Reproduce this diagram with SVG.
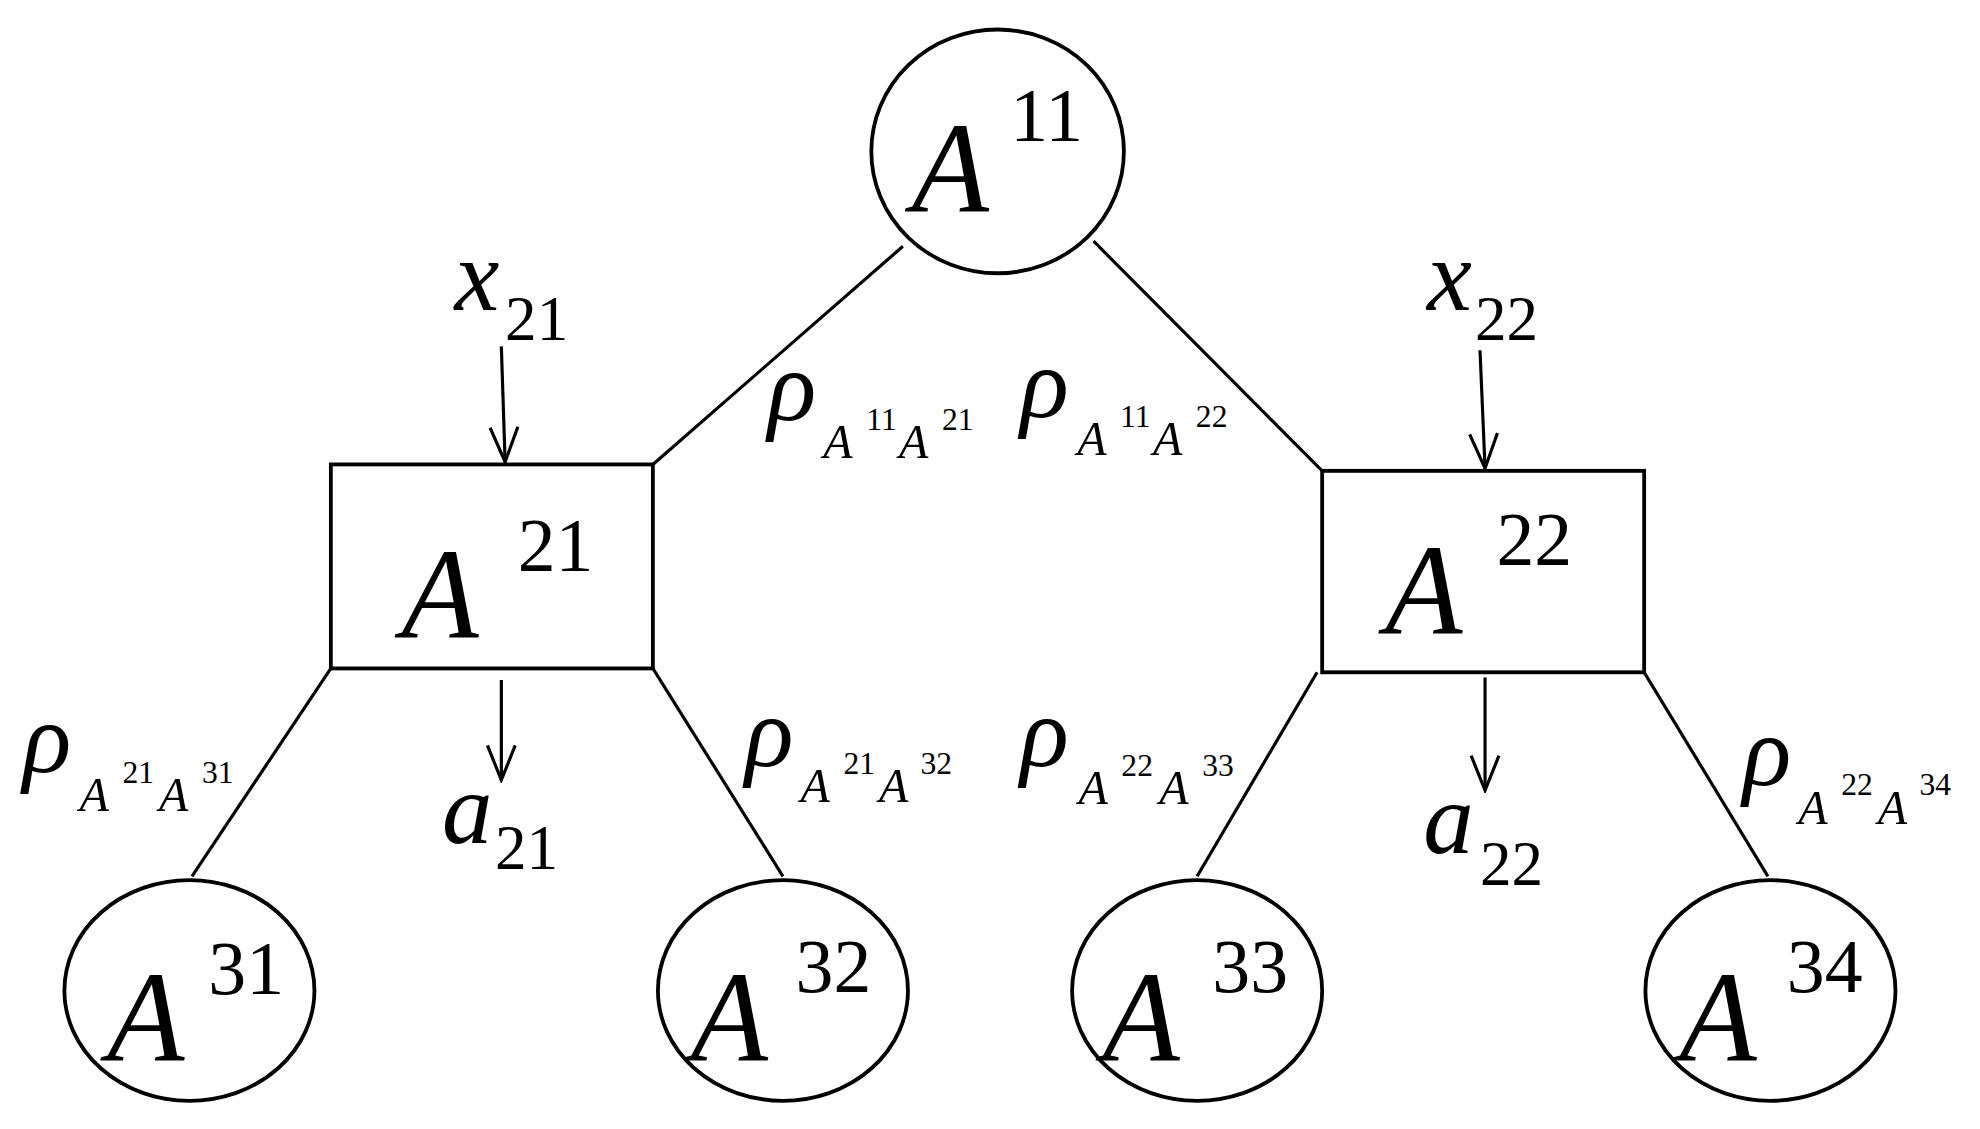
<svg xmlns="http://www.w3.org/2000/svg" width="1980" height="1129" viewBox="0 0 1980 1129">
<defs>
<marker id="ah" markerWidth="30" markerHeight="30" refX="28" refY="15" orient="auto" markerUnits="userSpaceOnUse" viewBox="0 0 30 30"><path d="M1 4 L28 15 L1 26" fill="none" stroke="#000" stroke-width="2.5"/></marker>
</defs>
<style>
text{font-family:"Liberation Serif","DejaVu Serif",serif}
.s{fill:#fff;stroke:#000;stroke-width:3}
.l{stroke:#000;stroke-width:2.5;fill:none}
.big{font-size:100px;font-style:italic}
.sup{font-size:60px}
.v{font-size:80px;font-style:italic}
.sub{font-size:50px}
.r{font-size:80px;font-style:italic}
.ra{font-size:38px;font-style:italic}
.rs{font-size:25px}
</style>
<rect width="1980" height="1129" fill="#fff"/>
<g transform="scale(1.2628,1.283)" font-family="'Liberation Serif', 'DejaVu Serif', serif" fill="#000">
<g id="connectors">
<line class="l" x1="715" y1="192" x2="517" y2="362"/>
<line class="l" x1="866" y1="188" x2="1047" y2="367"/>
<line class="l" x1="262" y1="521" x2="152" y2="683"/>
<line class="l" x1="517" y1="521" x2="620" y2="683"/>
<line class="l" x1="1043" y1="524" x2="948" y2="683"/>
<line class="l" x1="1302" y1="524" x2="1400" y2="683"/>
<line class="l" x1="397" y1="270" x2="400" y2="360" marker-end="url(#ah)"/>
<line class="l" x1="1172" y1="273" x2="1176" y2="365" marker-end="url(#ah)"/>
<line class="l" x1="397" y1="530" x2="397" y2="608" marker-end="url(#ah)"/>
<line class="l" x1="1176" y1="528" x2="1176" y2="616" marker-end="url(#ah)"/>
</g>
<g id="A11"><ellipse class="s" cx="790" cy="118" rx="100" ry="95"/><text class="big" x="722" y="165">A</text><text class="sup" x="800" y="110">11</text></g>
<g id="A21"><rect class="s" x="262" y="362" width="255" height="159"/><text class="big" x="318" y="497">A</text><text class="sup" x="410" y="445">21</text></g>
<g id="A22"><rect class="s" x="1047" y="367" width="255" height="157"/><text class="big" x="1097" y="494">A</text><text class="sup" x="1185" y="440">22</text></g>
<g id="A31"><ellipse class="s" cx="150" cy="772" rx="99" ry="86"/><text class="big" x="85" y="827">A</text><text class="sup" x="165" y="775">31</text></g>
<g id="A32"><ellipse class="s" cx="620" cy="772" rx="99" ry="86"/><text class="big" x="547" y="827">A</text><text class="sup" x="630" y="773">32</text></g>
<g id="A33"><ellipse class="s" cx="948" cy="772" rx="99" ry="86"/><text class="big" x="873" y="827">A</text><text class="sup" x="960" y="773">33</text></g>
<g id="A34"><ellipse class="s" cx="1402" cy="772" rx="99" ry="86"/><text class="big" x="1330" y="827">A</text><text class="sup" x="1415" y="773">34</text></g>
<g id="labels">
<text class="v" x="360" y="242">x</text><text class="sub" x="400" y="265">21</text>
<text class="v" x="1130" y="242">x</text><text class="sub" x="1168" y="265">22</text>
<text class="v" x="350" y="657">a</text><text class="sub" x="392" y="677">21</text>
<text class="v" x="1127" y="665">a</text><text class="sub" x="1172" y="690">22</text>
<text class="r" x="608" y="327">ρ</text><text class="ra" x="652" y="357">A</text><text class="rs" x="686" y="335">11</text><text class="ra" x="712" y="357">A</text><text class="rs" x="746" y="335">21</text>
<text class="r" x="808" y="325">ρ</text><text class="ra" x="853" y="355">A</text><text class="rs" x="887" y="333">11</text><text class="ra" x="913" y="355">A</text><text class="rs" x="947" y="333">22</text>
<text class="r" x="18" y="602">ρ</text><text class="ra" x="63" y="632">A</text><text class="rs" x="97" y="610">21</text><text class="ra" x="126" y="632">A</text><text class="rs" x="160" y="610">31</text>
<text class="r" x="590" y="597">ρ</text><text class="ra" x="634" y="625">A</text><text class="rs" x="668" y="603">21</text><text class="ra" x="696" y="625">A</text><text class="rs" x="729" y="603">32</text>
<text class="r" x="808" y="597">ρ</text><text class="ra" x="854" y="627">A</text><text class="rs" x="888" y="605">22</text><text class="ra" x="918" y="627">A</text><text class="rs" x="952" y="605">33</text>
<text class="r" x="1380" y="612">ρ</text><text class="ra" x="1424" y="642">A</text><text class="rs" x="1458" y="620">22</text><text class="ra" x="1487" y="642">A</text><text class="rs" x="1520" y="620">34</text>
</g>
</g>
</svg>
